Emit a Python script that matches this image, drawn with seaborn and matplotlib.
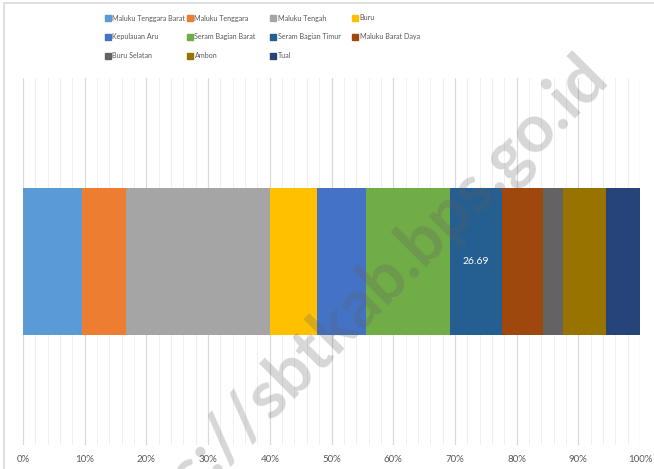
import numpy as np
import pandas as pd
import matplotlib.pyplot as plt
import matplotlib.ticker as mticker
from matplotlib.patches import Rectangle
import seaborn as sns

regions = ["Maluku Tenggara Barat", "Maluku Tenggara", "Maluku Tengah", "Buru",
           "Kepulauan Aru", "Seram Bagian Barat", "Seram Bagian Timur",
           "Maluku Barat Daya", "Buru Selatan", "Ambon", "Tual"]
values = [30.5, 22.9, 74.3, 24.4, 25.2, 43.6, 26.69, 21.3, 10.5, 22.1, 17.6]
colors = ["#5B9BD5", "#ED7D31", "#A5A5A5", "#FFC000", "#4472C4", "#70AD47",
          "#255E91", "#9E480E", "#636363", "#997300", "#264478"]
shown_label = "Seram Bagian Timur"

sns.set_style("white")
plt.rcParams["font.family"] = ["Lato", "DejaVu Sans"]

df = pd.DataFrame({"region": regions, "value": values})
df["pct"] = df["value"] / df["value"].sum() * 100
df["cum"] = df["pct"].cumsum()
df["row"] = ""

W, H = 654, 469
fig = plt.figure(figsize=(W / 100, H / 100), dpi=100)
ax = fig.add_axes([0.0352, 0.0512, 0.9434, 0.7828])

# -------------------------
# Stacked bar (draw cumulative from the end)
# -------------------------
for i in reversed(range(len(df))):
    sns.barplot(data=df.iloc[[i]], x="cum", y="row", color=colors[i],
                orient="h", width=0.4, saturation=1, linewidth=0, ax=ax,
                zorder=3)

row = df[df["region"] == shown_label].iloc[0]
ax.text(row["cum"] - row["pct"] / 2, 0, f"{row['value']:.2f}", color="white",
        ha="center", va="center", fontsize=7.5, zorder=5)

ax.set_xlim(0, 100)
ax.set_ylim(0.5, -0.5)
ax.xaxis.set_major_locator(mticker.MultipleLocator(10))
ax.xaxis.set_minor_locator(mticker.MultipleLocator(2))
ax.xaxis.set_major_formatter(mticker.FuncFormatter(lambda v, p: f"{v:.0f}%"))
ax.grid(axis="x", which="major", color="#D9D9D9", lw=0.9, zorder=0)
ax.grid(axis="x", which="minor", color="#EFEFEF", lw=0.7, zorder=0)
ax.set_axisbelow(True)
ax.set_xlabel("")
ax.set_ylabel("")
ax.set_yticks([])
ax.tick_params(axis="x", which="both", length=0, labelsize=7, colors="#595959", pad=7)
for s in ax.spines.values():
    s.set_visible(False)

# -------------------------
# Legend: fixed-width columns, filled row by row
# -------------------------
col_x = [105, 187, 270, 352]
row_y = [18, 37, 56]
for i, (name, c) in enumerate(zip(regions, colors)):
    x0 = col_x[i % 4]
    y0 = row_y[i // 4]
    fig.patches.append(Rectangle((x0 / W, 1 - (y0 + 3) / H), 6 / W, 6 / H,
                                 transform=fig.transFigure, color=c))
    fig.text((x0 + 7.5) / W, 1 - y0 / H, name, fontsize=5.1, color="#595959",
             ha="left", va="center")

# outer chart border
fig.patches.append(Rectangle((0.006, -0.01), 1.1, 1.0036, transform=fig.transFigure,
                             fill=False, edgecolor="#D9D9D9", lw=1.2))

# watermark
fig.text(597 / W, 1 - 66 / H, "https://sbtkab.bps.go.id", rotation=45, fontsize=48,
         fontweight="bold", color="#606060", alpha=0.25, ha="right",
         va="center", rotation_mode="anchor", zorder=10)

fig.savefig("out.png", dpi=100)
plt.close(fig)
